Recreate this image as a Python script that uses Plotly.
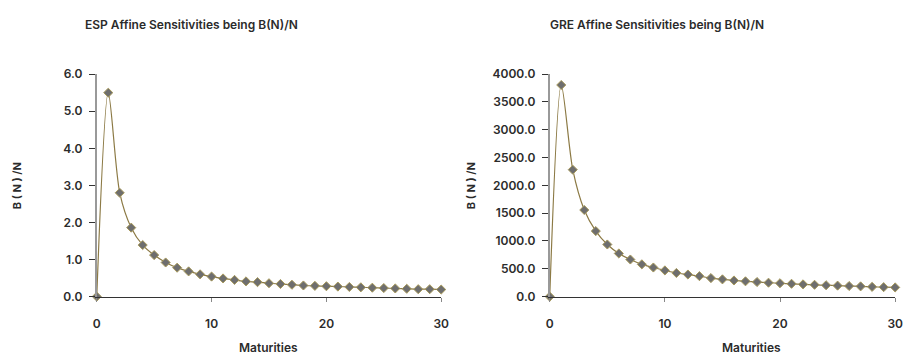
import plotly.graph_objects as go

# Maturities (years)
maturities = list(range(0, 31))

# B(N)/N affine sensitivities, Spain
esp_values = [0.00, 5.50, 2.80, 1.86, 1.39, 1.12, 0.92, 0.78, 0.68, 0.60,
              0.54, 0.49, 0.45, 0.41, 0.39, 0.36, 0.34, 0.32, 0.30, 0.29,
              0.28, 0.27, 0.26, 0.25, 0.24, 0.23, 0.22, 0.21, 0.20, 0.20,
              0.19]

# B(N)/N affine sensitivities, Greece
gre_values = [0.0, 3805.0, 2282.0, 1557.0, 1178.0, 937.0, 776.0, 667.0, 580.0, 523.0,
              471.0, 425.0, 397.0, 368.0, 333.0, 310.0, 290.0, 275.0, 262.0, 250.0,
              240.0, 230.0, 220.0, 212.0, 204.0, 197.0, 190.0, 184.0, 175.0, 170.0,
              165.0]

titles = ["ESP Affine Sensitivities being B(N)/N", "GRE Affine Sensitivities being B(N)/N"]
y_ticks = [
    [0, 1, 2, 3, 4, 5, 6],
    [0, 500, 1000, 1500, 2000, 2500, 3000, 3500, 4000],
]
x_ticks = [0, 10, 20, 30]

W, H = 915, 364
FONT = "Inter"
TEXT = "#2b2b2b"
LINE_COLOR = "#8c7a45"
MARKER_FILL = "#6e6e6e"

fig = go.Figure()

panels = [
    dict(values=esp_values, x0=94, x1=443, ymax=6, ticks=y_ticks[0], title=titles[0],
         title_x=80, ylab_x=14, xlab_x=268),
    dict(values=gre_values, x0=553, x1=903, ymax=4000, ticks=y_ticks[1], title=titles[1],
         title_x=551, ylab_x=474, xlab_x=757),
]

y_top, y_bot = 69, 301
for i, p in enumerate(panels, start=1):
    xa = "x" if i == 1 else f"x{i}"
    ya = "y" if i == 1 else f"y{i}"
    fig.add_trace(go.Scatter(
        x=maturities, y=p["values"], xaxis=xa, yaxis=ya,
        mode="lines+markers",
        line=dict(color=LINE_COLOR, width=1.2, shape="spline", smoothing=0.8),
        marker=dict(symbol="diamond", size=7, color=MARKER_FILL,
                    line=dict(color="#a89a5c", width=1)),
        cliponaxis=False, showlegend=False,
    ))
    axis_suffix = "" if i == 1 else str(i)
    fig.update_layout(**{
        f"xaxis{axis_suffix}": dict(
            domain=[p["x0"] / W, p["x1"] / W], range=[0, 30], anchor=ya,
            tickmode="array", tickvals=x_ticks, ticks="outside", ticklen=4,
            tickcolor="#888", showline=True, linecolor="#333", linewidth=1,
            showgrid=False, zeroline=False, ticklabelstandoff=12,
            tickfont=dict(family=FONT, size=12, color=TEXT, weight=600),
        ),
        f"yaxis{axis_suffix}": dict(
            domain=[(H - y_bot) / H, (H - y_top) / H], range=[0, p["ymax"]], anchor=xa,
            tickmode="array", tickvals=p["ticks"], tickformat=".1f",
            ticks="outside", ticklen=6, tickcolor="#333",
            showline=True, linecolor="#999", linewidth=2,
            showgrid=False, zeroline=False, ticklabelstandoff=4,
            tickfont=dict(family=FONT, size=12, color=TEXT, weight=600),
        ),
    })
    fig.add_annotation(text=p["title"], x=p["title_x"] / W, y=1 - 17 / H,
                       xref="paper", yref="paper", xanchor="left", yanchor="middle",
                       showarrow=False,
                       font=dict(family=FONT, size=12, color=TEXT, weight=600))
    fig.add_annotation(text="B ( N ) /N", x=p["ylab_x"] / W, y=1 - 185 / H,
                       xref="paper", yref="paper", xanchor="center", yanchor="middle",
                       textangle=-90, showarrow=False,
                       font=dict(family=FONT, size=11, color=TEXT, weight=700))
    fig.add_annotation(text="Maturities", x=p["xlab_x"] / W, y=1 - 354 / H,
                       xref="paper", yref="paper", xanchor="center", yanchor="middle",
                       showarrow=False,
                       font=dict(family=FONT, size=12, color=TEXT, weight=600))

fig.update_layout(
    width=W, height=H,
    margin=dict(l=0, r=0, t=0, b=0),
    paper_bgcolor="white", plot_bgcolor="white",
)

fig.write_html("out.html")
